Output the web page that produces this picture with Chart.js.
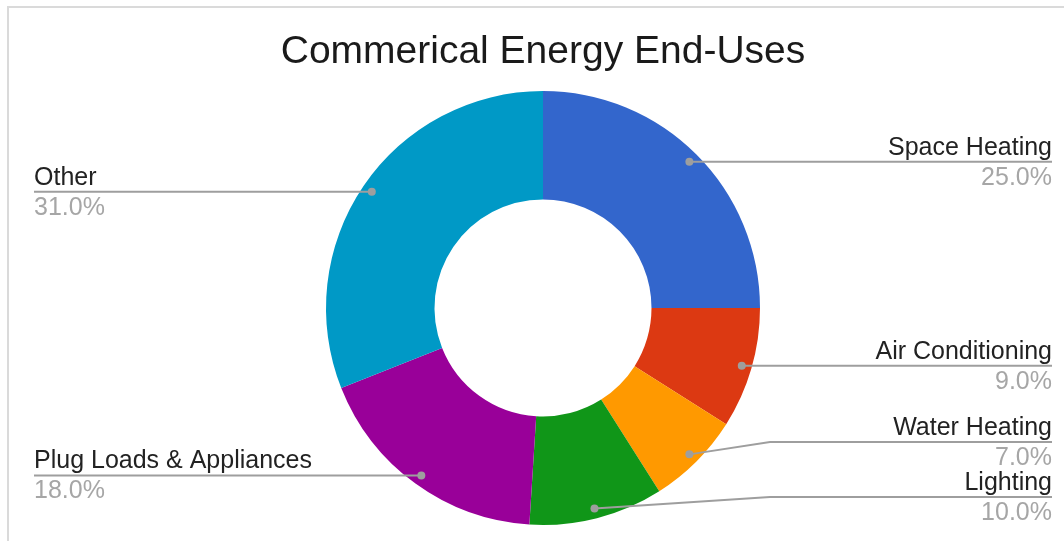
<!DOCTYPE html>
<html>
<head>
<meta charset="utf-8">
<script src="https://cdn.jsdelivr.net/npm/chart.js@4"></script>
<style>
  body { margin: 0; background: #fff; }
  #wrap { width: 1064px; height: 541px; position: relative; }
</style>
</head>
<body>
<div id="wrap"><canvas id="DonutChart" width="1064" height="541"></canvas></div>
<script>
// data
const categories = ['Space Heating', 'Air Conditioning', 'Water Heating', 'Lighting', 'Plug Loads & Appliances', 'Other'];
const shares = [25, 9, 7, 10, 18, 31];
const sliceColors = ['#3366cc', '#dc3912', '#ff9900', '#109618', '#990099', '#0099c6'];
const chartTitle = 'Commerical Energy End-Uses';

const FONT = "'Liberation Sans', Arial, sans-serif";

// frame + title
const framePlugin = {
    id: 'frame',
    beforeDraw(chart) {
        const ctx = chart.ctx;
        ctx.save();
        ctx.fillStyle = '#ffffff';
        ctx.fillRect(0, 0, chart.width, chart.height);
        ctx.strokeStyle = '#dadada';
        ctx.lineWidth = 2;
        ctx.beginPath();
        ctx.moveTo(chart.width, 7);
        ctx.lineTo(8, 7);
        ctx.lineTo(8, chart.height);
        ctx.stroke();

        ctx.fillStyle = '#1a1a1a';
        ctx.font = '39px ' + FONT;
        ctx.textAlign = 'center';
        ctx.textBaseline = 'alphabetic';
        ctx.fillText(chartTitle, 543, 63);
        ctx.restore();
    }
};

// leader lines and labels
const labelPlugin = {
    id: 'sliceLabels',
    afterDatasetsDraw(chart) {
        const ctx = chart.ctx;
        const meta = chart.getDatasetMeta(0);
        const total = shares.reduce((a, b) => a + b, 0);
        const items = [];

        meta.data.forEach((arc, i) => {
            const p = arc.getProps(['x', 'y', 'startAngle', 'endAngle', 'outerRadius']);
            const mid = (p.startAngle + p.endAngle) / 2;
            const r = p.outerRadius - 10;
            items.push({
                i: i,
                cx: p.x,
                dotX: p.x + Math.cos(mid) * r,
                dotY: p.y + Math.sin(mid) * r,
                right: Math.cos(mid) >= 0
            });
        });

        const gap = 55;
        const maxY = chart.height - 44;
        [true, false].forEach(side => {
            const list = items.filter(it => it.right === side).sort((a, b) => b.dotY - a.dotY);
            let limit = maxY;
            list.forEach(it => {
                it.lineY = Math.min(it.dotY, limit);
                limit = it.lineY - gap;
            });
        });

        ctx.save();
        items.forEach(it => {
            const endX = it.right ? 1052 : 34;
            const elbowX = it.right ? it.cx + 227 : it.cx - 227;

            ctx.strokeStyle = '#9e9e9e';
            ctx.lineWidth = 2;
            ctx.beginPath();
            ctx.moveTo(it.dotX, it.dotY);
            if (Math.abs(it.lineY - it.dotY) > 1) {
                ctx.lineTo(elbowX, it.lineY);
            } else {
                it.lineY = it.dotY;
            }
            ctx.lineTo(endX, it.lineY);
            ctx.stroke();

            ctx.fillStyle = '#9e9e9e';
            ctx.beginPath();
            ctx.arc(it.dotX, it.dotY, 4, 0, Math.PI * 2);
            ctx.fill();

            ctx.font = '25px ' + FONT;
            ctx.textAlign = it.right ? 'right' : 'left';
            ctx.textBaseline = 'alphabetic';
            ctx.fillStyle = '#222222';
            ctx.fillText(categories[it.i], endX, it.lineY - 7);
            ctx.fillStyle = '#a6a6a6';
            const pct = (shares[it.i] / total * 100).toFixed(1) + '%';
            ctx.fillText(pct, endX, it.lineY + 23);
        });
        ctx.restore();
    }
};

const ctxDonut = document.getElementById('DonutChart');
new Chart(ctxDonut, {
    type: 'doughnut',
    data: {
        labels: categories,
        datasets: [{
            data: shares,
            backgroundColor: sliceColors,
            borderWidth: 0,
            hoverOffset: 0
        }]
    },
    options: {
        responsive: false,
        animation: false,
        events: [],
        cutout: '50%',
        layout: {
            padding: { top: 91, bottom: 16, left: 300, right: 278 }
        },
        plugins: {
            legend: { display: false },
            tooltip: { enabled: false },
            title: { display: false }
        }
    },
    plugins: [framePlugin, labelPlugin]
});
</script>
</body>
</html>
